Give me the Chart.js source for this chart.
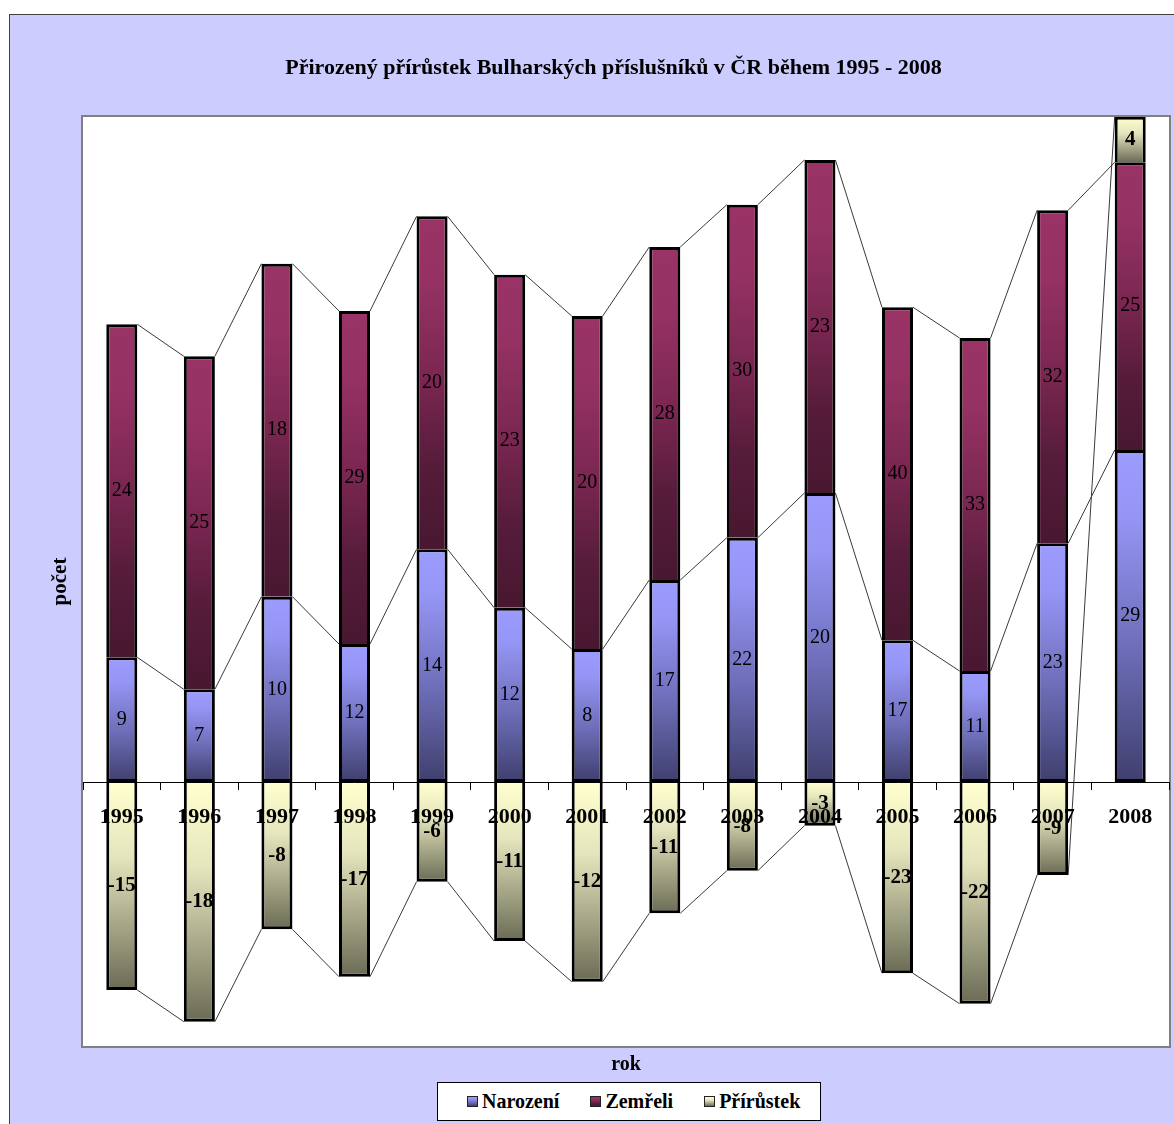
<!DOCTYPE html>
<html>
<head>
<meta charset="utf-8">
<script src="https://cdn.jsdelivr.net/npm/chart.js@4.4.1/dist/chart.umd.min.js"></script>
<style>
  html, body { margin: 0; padding: 0; background: #ffffff; width: 1174px; height: 1124px; overflow: hidden; }
  #frame { position: absolute; left: 9px; top: 14px; width: 1165px; height: 1110px; box-sizing: border-box;
           border-left: 1px solid #404040; border-top: 1px solid #404040; background: #CCCCFF; }
  #c { position: absolute; left: 10px; top: 15px; }
  #legend { position: absolute; left: 437px; top: 1082px; width: 384px; height: 39px; box-sizing: border-box;
            border: 1px solid #000; background: #fff; display: flex; align-items: center; padding-left: 29px;
            font: bold 20px "Liberation Serif", "Times New Roman", serif; color: #000; }
  #legend .item { display: flex; align-items: center; margin-right: 31px; white-space: nowrap; }
  #legend .sw { width: 11px; height: 11px; box-sizing: border-box; border: 1px solid #222; margin-right: 4px; }
</style>
</head>
<body>
<div id="frame"></div>
<canvas id="c" width="1164" height="1109"></canvas>
<div id="legend"></div>
<script>
// ---------- data ----------
const years = ['1995','1996','1997','1998','1999','2000','2001','2002','2003','2004','2005','2006','2007','2008'];
const seriesNames = ['Narození', 'Zemřeli', 'Přírůstek'];

// numbers printed on the bars
const narozeniLabels  = [9, 7, 10, 12, 14, 12, 8, 17, 22, 20, 17, 11, 23, 29];
const zemreliLabels   = [24, 25, 18, 29, 20, 23, 20, 28, 30, 23, 40, 33, 32, 25];
const prirustekLabels = [-15, -18, -8, -17, -6, -11, -12, -11, -8, -3, -23, -22, -9, 4];

// bar segment heights as drawn in the picture (the drawn heights do not follow the printed numbers)
const narozeniHeights  = [12.47, 9.27, 18.53, 13.8, 23.27, 17.43, 13.3, 20.2, 24.43, 28.9, 14.17, 11.1, 23.87, 33.2];
const zemreliHeights   = [33.3, 33.3, 33.3, 33.3, 33.3, 33.3, 33.3, 33.3, 33.3, 33.3, 33.3, 33.3, 33.3, 28.77];
const prirustekHeights = [-20.8, -23.97, -14.73, -19.47, -9.97, -15.9, -19.97, -13.13, -8.87, -4.37, -19.13, -22.17, -9.3, 4.56];

const yMin = -26.4;
const yMax = 66.5;
const xTitle = 'rok';
const yTitle = 'počet';
const chartTitle = 'Přirozený přírůstek Bulharských příslušníků v ČR během 1995 - 2008';

// ---------- styles ----------
const SERIF = '"Liberation Serif", "Times New Roman", serif';
const gradNar = [[0, '#9C9CFF'], [0.2, '#9595F5'], [0.6, '#6D6DB8'], [1, '#3F3F6E']];
const gradZem = [[0, '#9A3366'], [0.2, '#953263'], [0.5, '#792650'], [0.75, '#561C3A'], [1, '#481730']];
const gradPri = [[0, '#FFFFCF'], [0.35, '#E6E6BE'], [1, '#6B6B55']];
const valueLabelSets = [narozeniLabels, zemreliLabels, prirustekLabels];
const valueLabelFonts = ['normal 20px ' + SERIF, 'normal 20px ' + SERIF, 'bold 21px ' + SERIF];

function segmentPixels(chart, d, i) {
  const ds = chart.data.datasets;
  const v = ds[d].data[i];
  let start = 0;
  for (let k = 0; k < d; k++) {
    const w = ds[k].data[i];
    if ((w >= 0) === (v >= 0)) start += w;
  }
  const y = chart.scales.y;
  const a = y.getPixelForValue(start), b = y.getPixelForValue(start + v);
  return [Math.min(a, b), Math.max(a, b)];
}
function gradientFill(stops) {
  return (c) => {
    const chart = c.chart;
    if (!chart.chartArea || !chart.scales.y || c.dataIndex === undefined) return stops[0][1];
    const [t, b] = segmentPixels(chart, c.datasetIndex, c.dataIndex);
    const g = chart.ctx.createLinearGradient(0, t, 0, Math.max(b, t + 1));
    stops.forEach(([o, col]) => g.addColorStop(o, col));
    return g;
  };
}
function cssGradient(stops) {
  return 'linear-gradient(to bottom,' + stops.map(([o, c]) => c + ' ' + (o * 100) + '%').join(',') + ')';
}

// ---------- plugins ----------
const plotArea = {
  id: 'plotArea',
  beforeDraw(chart) {
    const {ctx, chartArea: a} = chart;
    ctx.save();
    ctx.fillStyle = '#ffffff';
    ctx.fillRect(a.left, a.top, a.right - a.left, a.bottom - a.top);
    ctx.strokeStyle = '#808080';
    ctx.lineWidth = 2;
    ctx.strokeRect(a.left - 1, a.top - 1, a.right - a.left + 2, a.bottom - a.top + 2);
    ctx.restore();
  }
};
const seriesLines = {
  id: 'seriesLines',
  beforeDatasetsDraw(chart) {
    const {ctx, chartArea: a} = chart;
    ctx.save();
    ctx.beginPath();
    ctx.rect(a.left, a.top, a.right - a.left, a.bottom - a.top);
    ctx.clip();
    ctx.strokeStyle = '#3a3a3a';
    ctx.lineWidth = 1;
    chart.data.datasets.forEach((ds, d) => {
      const els = chart.getDatasetMeta(d).data;
      for (let i = 0; i < els.length - 1; i++) {
        const e0 = els[i], e1 = els[i + 1];
        ctx.beginPath();
        ctx.moveTo(e0.x + e0.width / 2, e0.y);
        ctx.lineTo(e1.x - e1.width / 2, e1.y);
        ctx.stroke();
      }
    });
    ctx.restore();
  }
};
const valueLabels = {
  id: 'valueLabels',
  afterDatasetsDraw(chart) {
    const ctx = chart.ctx;
    ctx.save();
    ctx.textAlign = 'center';
    ctx.textBaseline = 'middle';
    ctx.fillStyle = '#000';
    chart.data.datasets.forEach((ds, d) => {
      ctx.font = valueLabelFonts[d];
      chart.getDatasetMeta(d).data.forEach((el, i) => {
        ctx.fillText(String(valueLabelSets[d][i]), el.x, (el.y + el.base) / 2);
      });
    });
    ctx.restore();
  }
};
const htmlLegend = {
  id: 'htmlLegend',
  afterUpdate(chart) {
    const box = document.getElementById('legend');
    box.innerHTML = '';
    const grads = [gradNar, gradZem, gradPri];
    chart.data.datasets.forEach((ds, d) => {
      const item = document.createElement('span');
      item.className = 'item';
      const sw = document.createElement('span');
      sw.className = 'sw';
      sw.style.background = cssGradient(grads[d]);
      const tx = document.createElement('span');
      tx.textContent = ds.label;
      item.appendChild(sw);
      item.appendChild(tx);
      box.appendChild(item);
    });
  }
};

// ---------- chart ----------
new Chart(document.getElementById('c'), {
  type: 'bar',
  data: {
    labels: years,
    datasets: [
      { label: seriesNames[0], data: narozeniHeights, backgroundColor: gradientFill(gradNar),
        borderColor: '#000', borderWidth: 3, borderSkipped: false },
      { label: seriesNames[1], data: zemreliHeights, backgroundColor: gradientFill(gradZem),
        borderColor: '#000', borderWidth: 3, borderSkipped: 'start' },
      { label: seriesNames[2], data: prirustekHeights, backgroundColor: gradientFill(gradPri),
        borderColor: '#000', borderWidth: 3, borderSkipped: 'start' }
    ]
  },
  options: {
    responsive: false,
    animation: false,
    devicePixelRatio: 1,
    barPercentage: 0.4,
    categoryPercentage: 1.0,
    layout: { padding: { left: 48, right: 5, top: 0, bottom: 0 } },
    plugins: {
      legend: { display: false },
      tooltip: { enabled: false },
      title: { display: true, text: chartTitle, color: '#000', fullSize: true,
               font: { family: SERIF, size: 22, weight: 'bold', lineHeight: 1.2 },
               padding: { top: 40, bottom: 35.6 } },
      subtitle: { display: true, text: xTitle, position: 'bottom', fullSize: false, weight: 500, color: '#000',
                  font: { family: SERIF, size: 20, weight: 'bold', lineHeight: 1.2 },
                  padding: { top: 7, bottom: 47 } }
    },
    scales: {
      x: {
        stacked: true,
        position: { y: 0 },
        grid: { display: true, drawOnChartArea: false, drawTicks: true, tickLength: 7, color: '#000', offset: true, z: 1 },
        border: { display: true, color: '#000', width: 1, z: 1 },
        ticks: { color: '#000', font: { family: SERIF, size: 22, weight: 'bold' }, padding: 15, z: 1,
                 autoSkip: false, maxRotation: 0, minRotation: 0 }
      },
      y: {
        stacked: true,
        min: yMin,
        max: yMax,
        ticks: { display: false },
        grid: { display: false, drawTicks: false },
        border: { display: false },
        title: { display: true, text: yTitle, color: '#000',
                 font: { family: SERIF, size: 21, weight: 'bold', lineHeight: 1.2 },
                 padding: { top: -9.6, bottom: 9.4 } }
      }
    }
  },
  plugins: [plotArea, seriesLines, valueLabels, htmlLegend]
});
</script>
</body>
</html>
